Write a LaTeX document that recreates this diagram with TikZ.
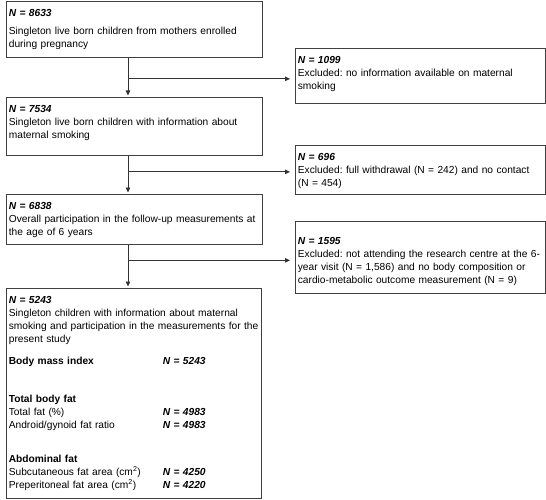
\documentclass[tikz,border=0pt]{standalone}
\usepackage{fontspec}
\setmainfont{Liberation Sans}
\usetikzlibrary{arrows.meta}
\newcommand{\ncount}[1]{\textbf{\textit{N = #1}}}
\newcommand{\ncol}[1]{\makebox[154pt][l]{#1}}
\tikzset{
  flow box/.style={draw=black!75,line width=0.7pt,anchor=north west,
    inner xsep=2.5pt,inner ysep=0pt,align=left,text height=15pt,
    font=\fontsize{10.2}{13}\selectfont\frenchspacing},
  main box/.style={flow box,text width=251pt},
  side box/.style={flow box,text width=245pt},
  flow arrow/.style={-{Triangle[length=5pt,width=4.5pt]},line width=0.8pt,
    black!80,shorten >=1.5pt},
}
\begin{document}
\begin{tikzpicture}[x=1pt,y=-1pt]
  \useasboundingbox (0,0) rectangle (546,500);
  \coordinate (stem) at (128,0);

  % Main column
  \node[main box,text depth=41pt] (m1) at (6,1)
    {\ncount{8633}\\[5pt]
     Singleton live born children from mothers enrolled\\
     during pregnancy};
  \node[main box,text depth=43pt] (m2) at (6,97)
    {\ncount{7534}\\
     Singleton live born children with information about\\
     maternal smoking};
  \node[main box,text depth=35pt] (m3) at (6,194)
    {\ncount{6838}\\
     Overall participation in the follow-up measurements at\\
     the age of 6 years};
  \node[main box,text width=250pt,text depth=195pt] (m4) at (6,288)
    {\ncount{5243}\\
     Singleton children with information about maternal\\
     smoking and participation in the measurements for the\\
     present study\\[9pt]
     \ncol{\textbf{Body mass index}}\ncount{5243}\\[25pt]
     \textbf{Total body fat}\\
     \ncol{Total fat (\%)}\ncount{4983}\\
     \ncol{Android/gynoid fat ratio}\ncount{4983}\\[21pt]
     \textbf{Abdominal fat}\\
     \ncol{Subcutaneous fat area (cm\textsuperscript{2})}\ncount{4250}\\
     \ncol{Preperitoneal fat area (cm\textsuperscript{2})}\ncount{4220}};

  % Exclusions
  \node[side box,text depth=40pt] (x1) at (295,48)
    {\ncount{1099}\\
     Excluded: no information available on maternal\\
     smoking};
  \node[side box,text depth=34pt] (x2) at (295,145)
    {\ncount{696}\\
     Excluded: full withdrawal (N = 242) and no contact\\
     (N = 454)};
  \node[side box,text height=23pt,text depth=49pt] (x3) at (295,221)
    {\ncount{1595}\\
     Excluded: not attending the research centre at the 6-\\
     year visit (N = 1,586) and no body composition or\\
     cardio-metabolic outcome measurement (N = 9)};

  \draw[flow arrow] (m1.south -| stem) -- (m2.north -| stem);
  \draw[flow arrow] (m2.south -| stem) -- (m3.north -| stem);
  \draw[flow arrow] (m3.south -| stem) -- (m4.north -| stem);
  \draw[flow arrow,shorten >=5pt] ([yshift=-3pt]x1.west -| stem)
    -- ([yshift=-3pt]x1.west);
  \draw[flow arrow,shorten >=5pt] ([yshift=-2pt]x2.west -| stem)
    -- ([yshift=-2pt]x2.west);
  \draw[flow arrow,shorten >=5pt] ([yshift=-3pt]x3.west -| stem)
    -- ([yshift=-3pt]x3.west);
\end{tikzpicture}
\end{document}
